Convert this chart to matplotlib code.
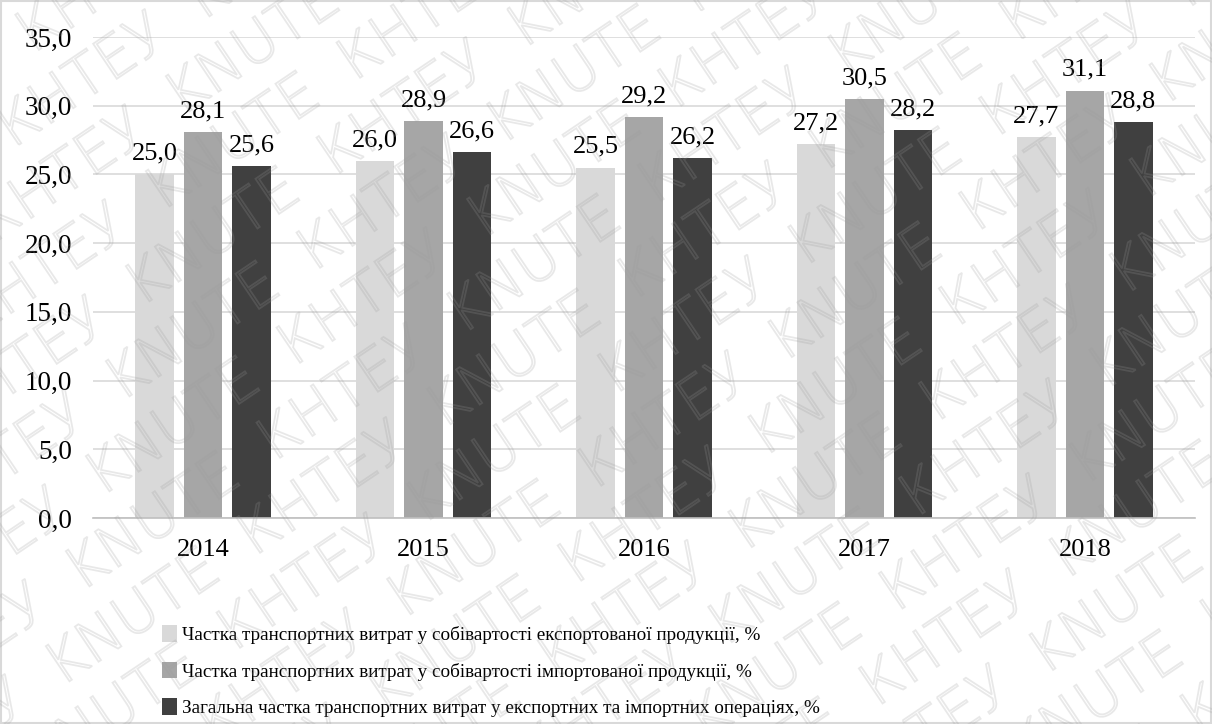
import matplotlib
matplotlib.use("Agg")
import matplotlib.pyplot as plt
import numpy as np
from matplotlib.patches import Rectangle, PathPatch
from matplotlib.textpath import TextPath
from matplotlib.font_manager import FontProperties
from matplotlib.transforms import Affine2D

years = ["2014", "2015", "2016", "2017", "2018"]
export_share = [25.0, 26.0, 25.5, 27.2, 27.7]
import_share = [28.1, 28.9, 29.2, 30.5, 31.1]
total_share = [25.6, 26.6, 26.2, 28.2, 28.8]
series_labels = [
    "Частка транспортних витрат у собівартості експортованої продукції, %",
    "Частка транспортних витрат у собівартості імпортованої продукції, %",
    "Загальна частка транспортних витрат у експортних та імпортних операціях, %",
]
colors = ["#d9d9d9", "#a6a6a6", "#404040"]

plt.rcParams['font.family'] = ['Liberation Serif', 'DejaVu Serif']

fig = plt.figure(figsize=(12.12, 7.24), dpi=100)
ax = fig.add_axes([0.0767, 0.2845, 0.9093, 0.6645])

x = np.arange(len(years))
w = 0.175
step = 0.22
series = [export_share, import_share, total_share]
handles = []
for i, (vals, c, lab) in enumerate(zip(series, colors, series_labels)):
    b = ax.bar(x + (i - 1) * step, vals, width=w, color=c, label=lab, zorder=2)
    handles.append(b)
    for xi, v in zip(x + (i - 1) * step, vals):
        ax.text(xi, v + 0.7, f"{v:.1f}".replace(".", ","), ha="center", va="bottom",
                fontsize=19, color="#000000", zorder=3)

ax.set_xlim(-0.5, len(years) - 0.5)
ax.set_ylim(0, 35)
ax.set_yticks(np.arange(0, 36, 5))
ax.set_yticklabels([f"{t:.1f}".replace(".", ",") for t in np.arange(0, 36, 5)], fontsize=19.5)
ax.set_xticks(x)
ax.set_xticklabels(years, fontsize=19)
ax.tick_params(axis="both", length=0)
ax.tick_params(axis="y", pad=15)
ax.tick_params(axis="x", pad=15)
ax.grid(axis="y", color="#d9d9d9", linewidth=1.2, zorder=0)
ax.set_axisbelow(True)
for s in ["top", "right", "left"]:
    ax.spines[s].set_visible(False)
ax.spines["bottom"].set_color("#bfbfbf")
ax.spines["bottom"].set_linewidth(1.2)

fig.legend(handles=handles, labels=series_labels, loc="center left",
           bbox_to_anchor=(0.127, 0.073), frameon=False, fontsize=13.8,
           handlelength=0.8, handleheight=0.95, handletextpad=0.25, labelspacing=0.92,
           borderaxespad=0)

# figure border
fig.patches.append(Rectangle((0.001, 0.001), 0.998, 0.998, transform=fig.transFigure,
                             fill=False, edgecolor="#d9d9d9", linewidth=1.5))

# watermark drawn as outline shapes
wm = fig.add_axes([0, 0, 1, 1], zorder=10)
wm.set_xlim(0, 1212)
wm.set_ylim(0, 724)
wm.axis("off")
wm.patch.set_alpha(0)
fp = FontProperties(family="DejaVu Sans", weight="light")
phrase = "KNUTE  КНТЕУ  " * 8
tp = TextPath((0, 0), phrase, size=58, prop=fp)
for k in range(-12, 16):
    tr = Affine2D().rotate_deg(34).translate(-400 + k * 20, -600 + k * 95)
    path = tr.transform_path(tp)
    wm.add_patch(PathPatch(path, facecolor="none", edgecolor="#9a9a9a",
                           linewidth=1.3, alpha=0.22, clip_on=True))

fig.savefig("out.png", dpi=100)
